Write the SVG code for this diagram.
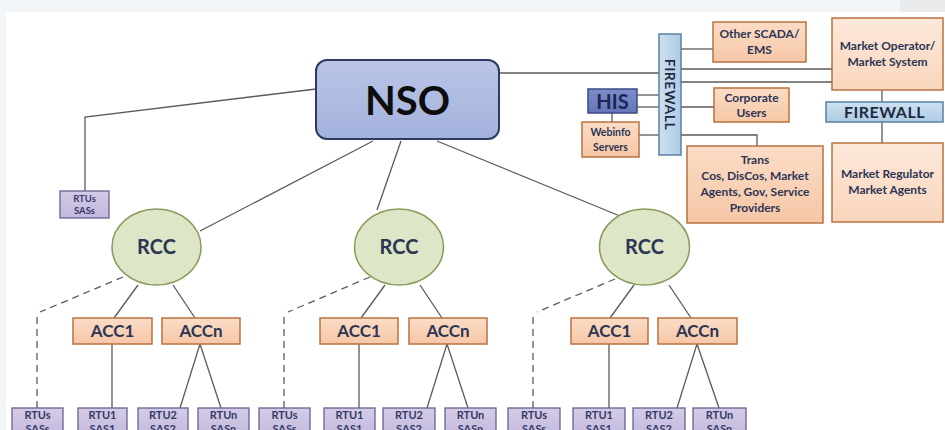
<svg xmlns="http://www.w3.org/2000/svg" width="945" height="430" viewBox="0 0 945 430">
<defs>
<linearGradient id="gNso" x1="0" y1="0" x2="0" y2="1"><stop offset="0" stop-color="#bac5e7"/><stop offset="1" stop-color="#a3b2dc"/></linearGradient>
<linearGradient id="gOr" x1="0" y1="0" x2="0" y2="1"><stop offset="0" stop-color="#fbdcc6"/><stop offset="1" stop-color="#f6c7a6"/></linearGradient>
<linearGradient id="gOrL" x1="0" y1="0" x2="0" y2="1"><stop offset="0" stop-color="#fde8da"/><stop offset="1" stop-color="#f9d6bd"/></linearGradient>
<linearGradient id="gPu" x1="0" y1="0" x2="0" y2="1"><stop offset="0" stop-color="#d3cbe7"/><stop offset="1" stop-color="#c2b8dc"/></linearGradient>
<linearGradient id="gFw" x1="0" y1="0" x2="0" y2="1"><stop offset="0" stop-color="#cde0f0"/><stop offset="1" stop-color="#aecbe4"/></linearGradient>
<linearGradient id="gFwV" x1="0" y1="0" x2="1" y2="0"><stop offset="0" stop-color="#cde0f0"/><stop offset="1" stop-color="#aecbe4"/></linearGradient>
<linearGradient id="gHis" x1="0" y1="0" x2="0" y2="1"><stop offset="0" stop-color="#7d8dcb"/><stop offset="1" stop-color="#6475b9"/></linearGradient>
<style>
text{font-family:Lato,"Open Sans","Liberation Sans",sans-serif;font-weight:bold;text-anchor:middle;fill:#2c3553}
.ln{stroke:#5a5a5a;stroke-width:1.3;fill:none}
.ds{stroke:#5a5a5a;stroke-width:1.3;fill:none;stroke-dasharray:7 5}
.or{fill:url(#gOr);stroke:#b9713f;stroke-width:1.5}
.orl{fill:url(#gOrL);stroke:#b9713f;stroke-width:1.5}
.pu{fill:url(#gPu);stroke:#6b608f;stroke-width:1.3}
.rcc{fill:#dde6c6;stroke:#8b9b5d;stroke-width:1.5}
.fw{stroke:#5a80a2;stroke-width:1.5}
.acc{font-size:17px}
.rt{font-size:11px;fill:#353a66}
.ob{font-size:12px}
</style>
</defs>
<rect x="0" y="0" width="945" height="430" fill="#f3f6f9"/>
<rect x="6" y="12" width="939" height="418" fill="#ffffff"/>
<rect x="900" y="0" width="45" height="12" fill="#e8eaec"/>

<g id="connectors">
<polyline class="ln" points="316,89 85,117 85,191"/>
<line class="ln" x1="373" y1="141" x2="200" y2="231"/>
<line class="ln" x1="401" y1="141" x2="377" y2="210"/>
<line class="ln" x1="437" y1="141" x2="620" y2="216"/>
<line class="ln" x1="499" y1="73" x2="659" y2="73"/>
<line class="ln" x1="681" y1="49" x2="713" y2="49"/>
<line class="ln" x1="681" y1="69" x2="832" y2="69"/>
<line class="ln" x1="681" y1="82" x2="832" y2="82"/>
<line class="ln" x1="637" y1="95" x2="659" y2="95"/>
<line class="ln" x1="637" y1="107" x2="659" y2="107"/>
<line class="ln" x1="681" y1="107" x2="714" y2="107"/>
<line class="ln" x1="612" y1="113" x2="612" y2="122"/>
<line class="ln" x1="639" y1="135" x2="659" y2="135"/>
<polyline class="ln" points="681,135 757,135 757,146"/>
<line class="ln" x1="882" y1="90" x2="882" y2="102"/>
<line class="ln" x1="882" y1="122" x2="882" y2="143"/>
<!-- group 1 -->
<polyline class="ds" points="123,277 40,312"/>
<line class="ds" x1="37" y1="317" x2="37" y2="408"/>
<line class="ln" x1="138" y1="285" x2="114" y2="318"/>
<line class="ln" x1="173" y1="285" x2="195" y2="318"/>
<line class="ln" x1="112" y1="344" x2="112" y2="408"/>
<line class="ln" x1="200" y1="344" x2="180" y2="408"/>
<line class="ln" x1="200" y1="344" x2="221" y2="408"/>
<!-- group 2 -->
<polyline class="ds" points="370,277 288,312"/>
<line class="ds" x1="284" y1="317" x2="284" y2="408"/>
<line class="ln" x1="385" y1="285" x2="361" y2="318"/>
<line class="ln" x1="420" y1="285" x2="442" y2="318"/>
<line class="ln" x1="359" y1="344" x2="359" y2="408"/>
<line class="ln" x1="447" y1="344" x2="427" y2="408"/>
<line class="ln" x1="447" y1="344" x2="468" y2="408"/>
<!-- group 3 -->
<polyline class="ds" points="615,279 537,312"/>
<line class="ds" x1="533" y1="317" x2="533" y2="408"/>
<line class="ln" x1="634" y1="285" x2="610" y2="318"/>
<line class="ln" x1="669" y1="285" x2="691" y2="318"/>
<line class="ln" x1="609" y1="344" x2="609" y2="408"/>
<line class="ln" x1="697" y1="344" x2="677" y2="408"/>
<line class="ln" x1="697" y1="344" x2="719" y2="408"/>
</g>

<g id="nso"><rect x="316" y="60" width="183" height="79" rx="11" fill="url(#gNso)" stroke="#2f3b60" stroke-width="2"/><text x="407.5" y="115" style="font-size:40px;fill:#0d0d0d">NSO</text></g>
<g id="rtus-top"><rect class="pu" x="60" y="191" width="49" height="27"/><text class="rt" x="84.5" y="202" style="font-size:9.5px">RTUs</text><text class="rt" x="84.5" y="214" style="font-size:9.5px">SASs</text></g>

<g id="firewall-v"><rect class="fw" x="659" y="34" width="22" height="121" fill="url(#gFwV)"/><text x="0" y="0" transform="translate(665,94.5) rotate(90)" style="font-size:14px;fill:#1e2a40;letter-spacing:0.5px">FIREWALL</text></g>
<g id="other-scada"><rect class="or" x="713" y="22" width="93" height="40"/><text class="ob" x="759.5" y="38">Other SCADA/</text><text class="ob" x="759.5" y="54">EMS</text></g>
<g id="market-operator"><rect class="orl" x="832" y="18" width="111" height="72"/><text class="ob" x="887.5" y="50">Market Operator/</text><text class="ob" x="887.5" y="66">Market System</text></g>
<g id="firewall-h"><rect class="fw" x="826" y="102" width="117" height="20" fill="url(#gFw)"/><text x="884.5" y="118" style="font-size:16px;fill:#1e2a40;letter-spacing:0.5px">FIREWALL</text></g>
<g id="market-regulator"><rect class="orl" x="832" y="143" width="111" height="79"/><text class="ob" x="887.5" y="178">Market Regulator</text><text class="ob" x="887.5" y="194">Market Agents</text></g>
<g id="corporate"><rect class="or" x="714" y="88" width="75" height="34"/><text class="ob" x="751.5" y="102">Corporate</text><text class="ob" x="751.5" y="117">Users</text></g>
<g id="trans"><rect class="or" x="687" y="146" width="136" height="77"/><text class="ob" x="755" y="164">Trans</text><text class="ob" x="755" y="180">Cos, DisCos, Market</text><text class="ob" x="755" y="196">Agents, Gov, Service</text><text class="ob" x="755" y="212">Providers</text></g>
<g id="his"><rect x="588" y="89" width="49" height="24" fill="url(#gHis)" stroke="#3c4b82" stroke-width="1.5"/><text x="612.5" y="109" style="font-size:20px;fill:#1c2650">HIS</text></g>
<g id="webinfo"><rect class="or" x="582" y="122" width="57" height="35"/><text x="610.5" y="136" style="font-size:10.5px">Webinfo</text><text x="610.5" y="151" style="font-size:10.5px">Servers</text></g>

<g id="rcc1"><ellipse class="rcc" cx="156.5" cy="247" rx="44.5" ry="38"/><text x="156.5" y="254" style="font-size:20px">RCC</text></g>
<g id="rcc2"><ellipse class="rcc" cx="399" cy="247" rx="44.5" ry="38"/><text x="399" y="254" style="font-size:20px">RCC</text></g>
<g id="rcc3"><ellipse class="rcc" cx="644.5" cy="247" rx="45" ry="38"/><text x="644.5" y="254" style="font-size:20px">RCC</text></g>

<g id="acc1-1"><rect class="or" x="73" y="318" width="79" height="26"/><text class="acc" x="112.5" y="337">ACC1</text></g>
<g id="accn-1"><rect class="or" x="162" y="318" width="78" height="26"/><text class="acc" x="201" y="337">ACCn</text></g>
<g id="acc1-2"><rect class="or" x="320" y="318" width="78" height="26"/><text class="acc" x="359" y="337">ACC1</text></g>
<g id="accn-2"><rect class="or" x="409" y="318" width="78" height="26"/><text class="acc" x="448" y="337">ACCn</text></g>
<g id="acc1-3"><rect class="or" x="571" y="318" width="77" height="26"/><text class="acc" x="609.5" y="337">ACC1</text></g>
<g id="accn-3"><rect class="or" x="658" y="318" width="79" height="26"/><text class="acc" x="697.5" y="337">ACCn</text></g>

<g id="rtus-1"><rect class="pu" x="12" y="408" width="51" height="32"/><text class="rt" x="37.5" y="419">RTUs</text><text class="rt" x="37.5" y="433">SASs</text></g>
<g id="rtu1-1"><rect class="pu" x="78" y="408" width="49" height="32"/><text class="rt" x="102.5" y="419">RTU1</text><text class="rt" x="102.5" y="433">SAS1</text></g>
<g id="rtu2-1"><rect class="pu" x="138" y="408" width="50" height="32"/><text class="rt" x="163" y="419">RTU2</text><text class="rt" x="163" y="433">SAS2</text></g>
<g id="rtun-1"><rect class="pu" x="198" y="408" width="51" height="32"/><text class="rt" x="223.5" y="419">RTUn</text><text class="rt" x="223.5" y="433">SASn</text></g>
<g id="rtus-2"><rect class="pu" x="259" y="408" width="51" height="32"/><text class="rt" x="284.5" y="419">RTUs</text><text class="rt" x="284.5" y="433">SASs</text></g>
<g id="rtu1-2"><rect class="pu" x="324" y="408" width="51" height="32"/><text class="rt" x="349.5" y="419">RTU1</text><text class="rt" x="349.5" y="433">SAS1</text></g>
<g id="rtu2-2"><rect class="pu" x="383" y="408" width="52" height="32"/><text class="rt" x="409" y="419">RTU2</text><text class="rt" x="409" y="433">SAS2</text></g>
<g id="rtun-2"><rect class="pu" x="445" y="408" width="51" height="32"/><text class="rt" x="470.5" y="419">RTUn</text><text class="rt" x="470.5" y="433">SASn</text></g>
<g id="rtus-3"><rect class="pu" x="508" y="408" width="52" height="32"/><text class="rt" x="534" y="419">RTUs</text><text class="rt" x="534" y="433">SASs</text></g>
<g id="rtu1-3"><rect class="pu" x="573" y="408" width="52" height="32"/><text class="rt" x="599" y="419">RTU1</text><text class="rt" x="599" y="433">SAS1</text></g>
<g id="rtu2-3"><rect class="pu" x="633" y="408" width="52" height="32"/><text class="rt" x="659" y="419">RTU2</text><text class="rt" x="659" y="433">SAS2</text></g>
<g id="rtun-3"><rect class="pu" x="693" y="408" width="53" height="32"/><text class="rt" x="719.5" y="419">RTUn</text><text class="rt" x="719.5" y="433">SASn</text></g>
</svg>
